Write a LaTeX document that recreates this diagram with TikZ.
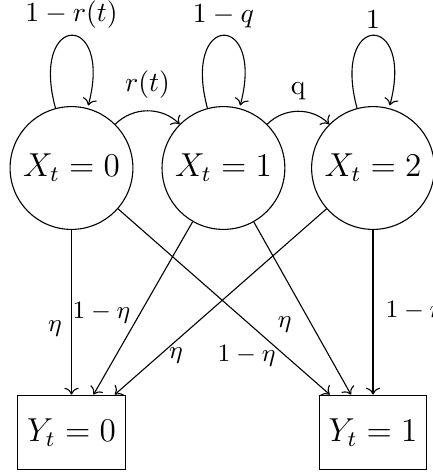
\documentclass[tikz,border=0pt]{standalone}
\usepackage{amsmath}
\usepackage{tikz}
\usetikzlibrary{arrows.meta}
\tikzset{
  zustand/.style={circle,draw,minimum size=1.56cm,inner sep=0pt,font=\large},
  beob/.style={rectangle,draw,minimum width=1.35cm,minimum height=0.95cm,font=\large},
  pfeil/.style={->,line width=0.4pt},
  elab/.style={font=\small},
}

\begin{document}
\begin{tikzpicture}
  \useasboundingbox (-0.908,-3.912) rectangle (4.591,2.134);
  % Zustaende
  \node[zustand] (X0) at (0,0) {$X_t=0$};
  \node[zustand] (X1) at (1.93,0) {$X_t=1$};
  \node[zustand] (X2) at (3.83,0) {$X_t=2$};
  % Beobachtungen
  \node[beob] (Y0) at (0,-3.36) {$Y_t=0$};
  \node[beob] (Y1) at (3.83,-3.36) {$Y_t=1$};
  % Uebergaenge
  \draw[pfeil] (X0) edge[loop above] node[above=-0.8pt]{$1-r(t)$} ();
  \draw[pfeil] (X1) edge[loop above] node[above=-0.8pt]{$1-q$} ();
  \draw[pfeil] (X2) edge[loop above] node[above=-0.8pt]{$1$} ();
  \draw[pfeil] (X0) to[bend left=45] node[above=0.8pt]{$r(t)$} (X1);
  \draw[pfeil] (X1) to[bend left=45] node[above=0.8pt]{q} (X2);
  % Emissionen
  \draw[pfeil] (X0) -- node[elab,pos=0.6,left]{$\eta$} (Y0);
  \draw[pfeil] (X1) -- node[elab,pos=0.53,left]{$1-\eta$} ([xshift=2.8mm]Y0.north);
  \draw[pfeil] (X2) -- node[elab,pos=0.79,right]{$\eta$} ([xshift=5.5mm]Y0.north);
  \draw[pfeil] (X0) -- node[elab,pos=0.79,left]{$1-\eta$} ([xshift=-5.5mm]Y1.north);
  \draw[pfeil] (X1) -- node[elab,pos=0.49,below left]{$\eta$} ([xshift=-2.8mm]Y1.north);
  \draw[pfeil] (X2) -- node[elab,pos=0.5,right=1pt]{$1-\eta$} (Y1);
\end{tikzpicture}
\end{document}
